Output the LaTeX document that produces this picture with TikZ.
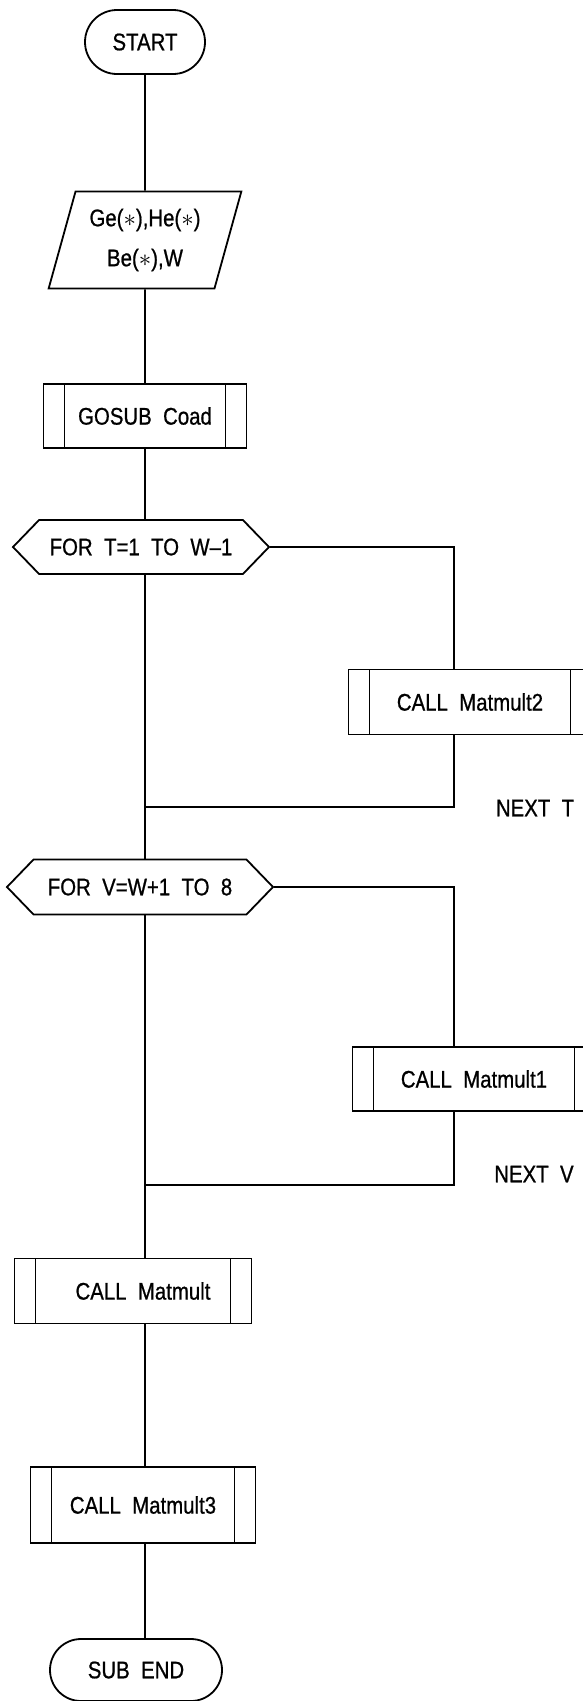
\documentclass[tikz,border=0pt]{standalone}
\usepackage{fontspec}
\setmainfont{Liberation Sans}[FakeStretch=0.85,FakeBold=0.8]
\usetikzlibrary{shapes.geometric,shapes.misc,shapes.symbols}

\begin{document}
\begin{tikzpicture}[x=1pt,y=-1pt,line width=1.8pt,
    font=\fontsize{24}{28}\selectfont,
    every node/.style={align=center,inner sep=0pt},
    terminal/.style={draw,rounded rectangle,minimum width=120pt,minimum height=64pt},
    ioshape/.style={draw,trapezium,trapezium left angle=71,trapezium right angle=109,
      trapezium stretches=true,minimum width=193pt,minimum height=97pt},
    procbox/.style={draw,rectangle,minimum height=64pt,
      path picture={\draw ([xshift=21pt]path picture bounding box.north west) -- ([xshift=21pt]path picture bounding box.south west)
        ([xshift=-21pt]path picture bounding box.north east) -- ([xshift=-21pt]path picture bounding box.south east);}},
    loopbox/.style={draw,signal,signal to=east and west,signal pointer angle=92,minimum height=54pt}]
    \useasboundingbox (0,0) rectangle (583,1701);
    % main column
    \node[terminal] (start) at (145,42) {START};
    \node[ioshape] (param) at (145,240) {Ge($\ast$),He($\ast$)\\[12pt]Be($\ast$),W};
    \node[procbox,minimum width=203pt] (gosub) at (145,416) {GOSUB~ Coad};
    \node[loopbox,minimum width=256pt] (fort) at (141,547) {FOR~ T=1~ TO~ W--1};
    \node[procbox,minimum width=243pt,minimum height=65pt] (mmtwo) at (470,702) {CALL~ Matmult2};
    \coordinate (joint) at (145,807);
    \node (nextt) at (535,808) {NEXT~ T};
    \node[loopbox,minimum width=266pt,minimum height=55pt] (forv) at (140,887) {FOR~ V=W+1~ TO~ 8};
    \node[procbox,minimum width=243pt] (mmone) at (474,1079) {CALL~ Matmult1};
    \coordinate (joinv) at (145,1185);
    \node (nextv) at (534,1174) {NEXT~ V};
    \node[procbox,minimum width=237pt,minimum height=65pt] (mm) at (133,1291) {\hspace*{20pt}CALL~ Matmult};
    \node[procbox,minimum width=225pt,minimum height=76pt] (mmthree) at (143,1505) {CALL~ Matmult3};
    \node[terminal,minimum width=172pt,minimum height=62pt] (subend) at (136,1670) {SUB~ END};
    % connectors
    \draw (start) -- (param);
    \draw (param) -- (gosub);
    \draw (gosub.south) -- (gosub.south |- fort.north);
    \draw (fort.south -| joint) -- (joint) -- (joint |- forv.north);
    \draw (fort.east) -| ([xshift=-16pt]mmtwo.north);
    \draw ([xshift=-16pt]mmtwo.south) |- (joint);
    \draw (forv.south -| joinv) -- (joinv) -- (joinv |- mm.north);
    \draw (forv.east) -| ([xshift=-20pt]mmone.north);
    \draw ([xshift=-20pt]mmone.south) |- (joinv);
    \draw (mm.south -| joinv) -- (mmthree.north -| joinv);
    \draw (mmthree.south -| joinv) -- (subend.north -| joinv);
\end{tikzpicture}
\end{document}
